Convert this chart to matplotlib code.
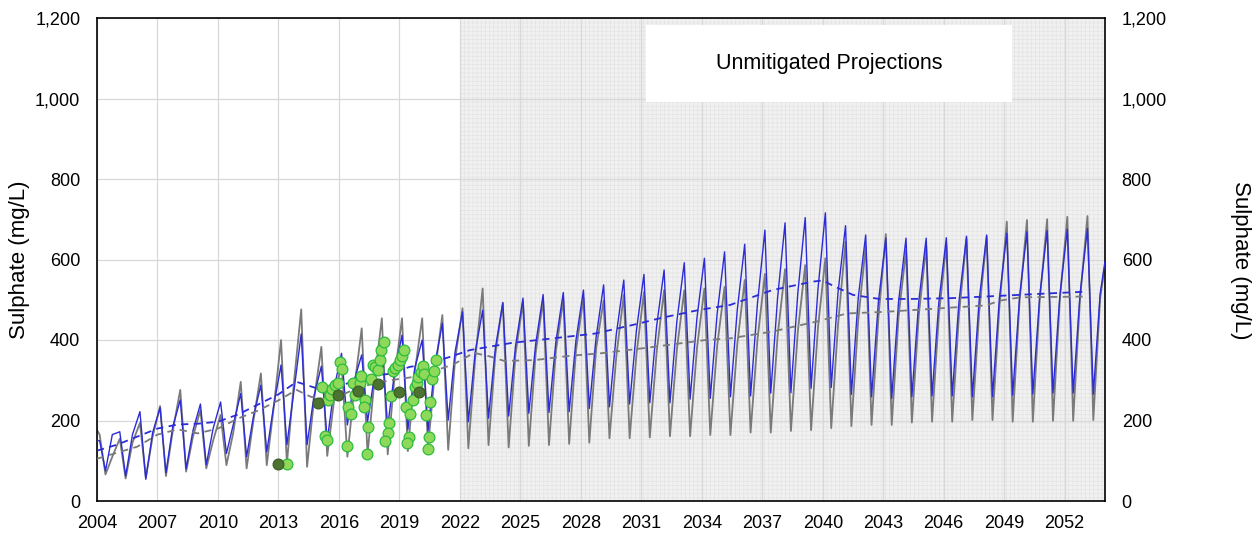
import matplotlib
matplotlib.use("Agg")
import matplotlib.pyplot as plt
from matplotlib.patches import Rectangle
from matplotlib.ticker import FuncFormatter

plt.rcParams["font.family"] = ["Liberation Sans", "DejaVu Sans"]
plt.rcParams["hatch.linewidth"] = 0.5

years = list(range(2004, 2054))

# annual peak / trough / mid-rise shoulder (mg/L)
grey_peak = [165, 155, 194, 236, 276, 226, 214, 296, 317, 400, 476, 383, 343, 429, 454, 454, 454, 462,
             479, 528, 493, 495, 499, 501, 504, 498, 512, 519, 524, 523, 528, 532, 549, 564, 576, 586,
             603, 644, 633, 663, 622, 633, 638, 653, 657, 694, 698, 700, 706, 708]
grey_trough = [66, 56, 58, 62, 73, 81, 89, 81, 89, 93, 85, 112, 110, 116, 116, 124, 133, 127,
               131, 139, 133, 137, 139, 142, 145, 156, 156, 158, 161, 161, 164, 164, 170, 170, 174, 176,
               181, 186, 189, 189, 195, 197, 197, 201, 201, 197, 197, 199, 199, 201]
grey_mid = [110, 145, 160, 175, 160, 150, 170, 200, 230, 290, 250, 250, 280, 300, 310, 320, 320, 350,
            355, 365, 365, 368, 372, 375, 380, 360, 365, 370, 375, 380, 385, 390, 400, 410, 420, 430,
            440, 450, 455, 458, 460, 462, 465, 470, 480, 495, 498, 500, 502, 505]
blue_peak = [150, 172, 222, 232, 251, 241, 246, 267, 288, 338, 415, 335, 367, 363, 383, 412, 400, 441,
             470, 474, 492, 504, 513, 518, 524, 537, 549, 563, 574, 592, 603, 619, 638, 673, 691, 704,
             716, 684, 661, 653, 653, 653, 654, 658, 661, 665, 669, 672, 675, 677]
blue_trough = [75, 62, 54, 70, 80, 90, 118, 110, 122, 140, 140, 150, 189, 197, 185, 177, 174, 201,
               197, 206, 211, 218, 220, 222, 230, 234, 241, 244, 244, 253, 255, 259, 261, 268, 269, 280,
               282, 265, 259, 255, 259, 261, 261, 259, 259, 263, 266, 268, 268, 265]
blue_mid = [165, 165, 170, 185, 175, 180, 190, 210, 235, 270, 260, 280, 300, 310, 320, 330, 340, 370,
            370, 380, 385, 390, 395, 400, 408, 415, 425, 435, 445, 455, 465, 475, 490, 505, 515, 525,
            520, 505, 495, 495, 495, 495, 497, 500, 503, 505, 508, 510, 512, 515]
grey_start, grey_end = 176, 585
blue_start, blue_end = 150, 595

# dashed running averages
blue_avg_t = [2004.0, 2005, 2006, 2007, 2008, 2009, 2010, 2011, 2012, 2013, 2013.9, 2014.9, 2015.6,
              2016.4, 2017.4, 2018.5, 2019.5, 2020.5, 2021.5, 2022.5, 2024.6, 2026.6, 2028.7, 2030.8,
              2032, 2033.9, 2035.4, 2037.5, 2039.5, 2040.0, 2040.5, 2041.5, 2042.8, 2044.5, 2046.4,
              2048.9, 2051.3, 2053.0]
blue_avg_v = [125, 140, 160, 180, 190, 192, 197, 215, 240, 265, 296, 280, 276, 292, 309, 316, 333, 342,
              358, 375, 393, 404, 416, 440, 455, 475, 487, 524, 545, 548, 535, 512, 502, 502, 504, 510,
              516, 520]
grey_avg_t = [2004.0, 2005, 2006, 2007, 2008, 2009, 2010, 2011, 2012, 2013, 2013.9, 2014.6, 2015.6,
              2016.7, 2017.7, 2018.7, 2019.8, 2020.9, 2021.7, 2022.7, 2023.5, 2024.2, 2025.7, 2027.5,
              2029, 2031, 2034.2, 2035.4, 2037.5, 2039.7, 2041.2, 2043.1, 2045.6, 2048.1, 2048.8,
              2049.8, 2053.0]
grey_avg_v = [105, 120, 135, 165, 178, 168, 180, 205, 225, 250, 276, 259, 251, 276, 292, 301, 309, 326,
              340, 368, 359, 348, 350, 361, 367, 379, 400, 404, 421, 446, 466, 470, 478, 486, 498, 506,
              508]

# monitoring samples
light_t = [2013.4, 2015.14, 2015.3, 2015.39, 2015.47, 2015.55, 2015.68, 2015.8, 2015.96, 2016.05,
           2016.16, 2016.46, 2016.58, 2016.38, 2016.71, 2016.79, 2017.04, 2017.12, 2017.29, 2017.26,
           2017.45, 2017.37, 2017.61, 2017.69, 2017.8, 2017.95, 2018.03, 2018.11, 2018.23, 2018.56,
           2018.48, 2018.41, 2018.31, 2018.69, 2018.8, 2018.94, 2019.05, 2019.14, 2019.24, 2019.31,
           2019.55, 2019.65, 2019.47, 2019.4, 2019.77, 2019.85, 2019.93, 2020.05, 2020.15, 2020.23,
           2020.64, 2020.72, 2020.8, 2020.54, 2020.31, 2020.46, 2020.4]
light_v = [92, 282, 161, 152, 251, 263, 279, 287, 294, 345,
           327, 234, 216, 137, 292, 263, 294, 310, 251, 234,
           183, 117, 302, 338, 334, 326, 350, 376, 395, 261,
           195, 170, 148, 322, 330, 338, 350, 360, 375, 234,
           215, 252, 160, 144, 282, 292, 307, 320, 335, 316,
           303, 324, 350, 247, 214, 158, 129]
dark_t = [2012.99, 2014.97, 2015.96, 2016.96, 2017.96, 2018.99, 2019.98]
dark_v = [92, 243, 263, 273, 290, 272, 272]


def seasonal(peak, trough, mid, start, end):
    t, v = [2004.0], [start]
    for i, y in enumerate(years):
        t += [y + 0.13, y + 0.42, y + 0.76]
        v += [peak[i], trough[i], mid[i]]
    t.append(2054.0)
    v.append(end)
    return t, v


fig = plt.figure(figsize=(12.55, 5.33), dpi=100)
ax = fig.add_axes([97 / 1255, 32 / 533, 1008 / 1255, 483 / 533])

ax.axvspan(2022, 2054, facecolor="#f1f1f1", edgecolor="#e4e4e4", hatch="++++", lw=0, zorder=0.2)
ax.set_axisbelow(True)
ax.grid(True, color="#d8d8d8", lw=0.9)

gt, gv = seasonal(grey_peak, grey_trough, grey_mid, grey_start, grey_end)
bt, bv = seasonal(blue_peak, blue_trough, blue_mid, blue_start, blue_end)
ax.plot(bt, bv, color="#2c2cd6", lw=1.0, zorder=3)
ax.plot(gt, gv, color="#7a7a7a", lw=1.3, zorder=2)
ax.plot(blue_avg_t, blue_avg_v, color="#2c2cd6", lw=1.3, ls=(0, (4, 3)), zorder=4)
ax.plot(grey_avg_t, grey_avg_v, color="#7a7a7a", lw=1.3, ls=(0, (4, 3)), zorder=4)

ax.scatter(light_t, light_v, s=60, facecolor="#8ed85a", edgecolor="#2bbd3c", lw=0.9, zorder=5)
ax.scatter(dark_t, dark_v, s=60, facecolor="#4c7430", edgecolor="#3d5f26", lw=0.9, zorder=6)

ax.add_patch(Rectangle((0.5446, 0.826), 0.363, 0.159, transform=ax.transAxes,
                       facecolor="white", edgecolor="none", zorder=7))
ax.text(0.5446 + 0.363 / 2, 0.826 + 0.159 / 2, "Unmitigated Projections", transform=ax.transAxes,
        ha="center", va="center", fontsize=15.5, zorder=8)

ax.set_xlim(2004, 2054)
ax.set_ylim(0, 1200)
ax.set_xticks(range(2004, 2054, 3))
ax.set_yticks(range(0, 1201, 200))
fmt = FuncFormatter(lambda v, p: f"{v:,.0f}")
ax.yaxis.set_major_formatter(fmt)
ax.tick_params(axis="y", length=0, pad=12, labelsize=13)
ax.tick_params(axis="x", length=0, pad=10, labelsize=13)
for s in ax.spines.values():
    s.set_color("black")
    s.set_linewidth(1.2)

ax2 = ax.twinx()
ax2.set_ylim(0, 1200)
ax2.set_yticks(range(0, 1201, 200))
ax2.yaxis.set_major_formatter(fmt)
ax2.tick_params(axis="y", length=0, pad=12, labelsize=13)
for s in ax2.spines.values():
    s.set_visible(False)

fig.text(20 / 1255, 0.512, "Sulphate (mg/L)", rotation=90, ha="center", va="center", fontsize=16)
fig.text(1240 / 1255, 0.512, "Sulphate (mg/L)", rotation=270, ha="center", va="center", fontsize=16)

fig.savefig("out.png", dpi=100)
